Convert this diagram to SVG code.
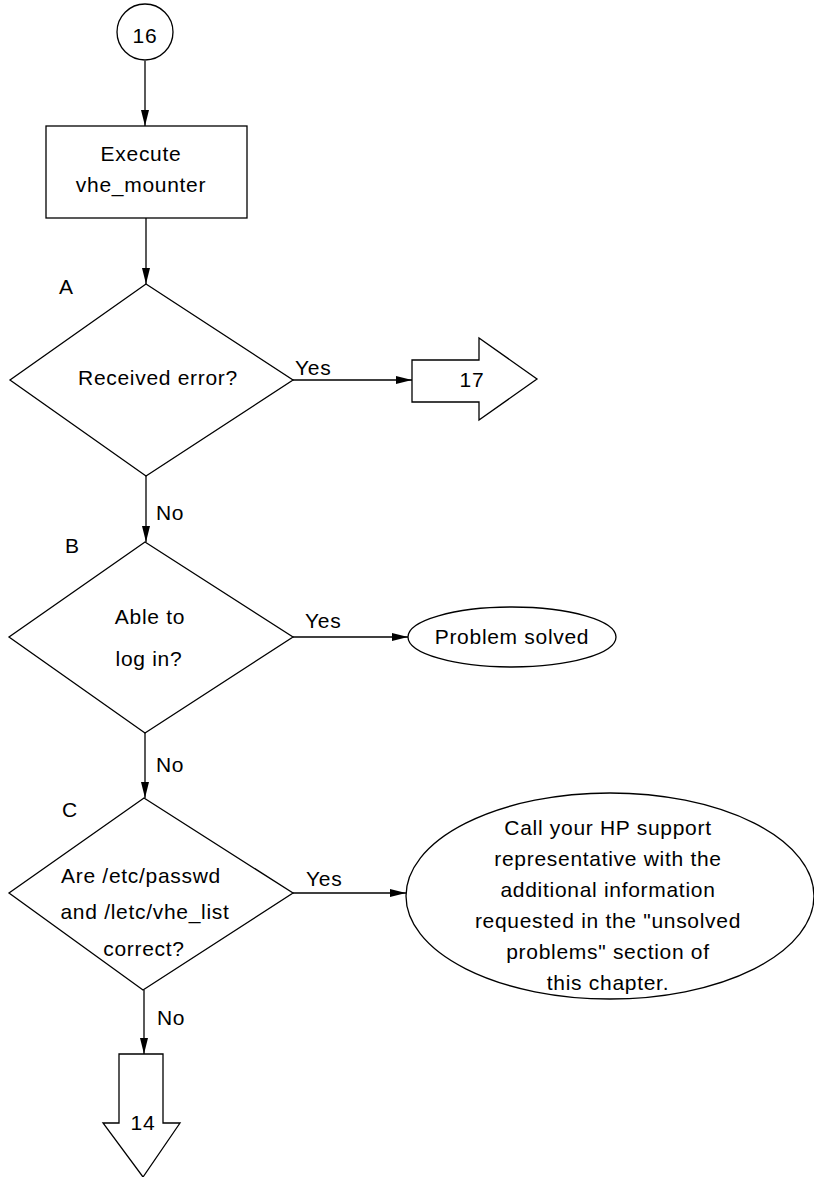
<svg xmlns="http://www.w3.org/2000/svg" width="814" height="1177" viewBox="0 0 814 1177">
  <style>
    .shape { fill: #ffffff; stroke: #000000; stroke-width: 1.3; }
    .line { fill: none; stroke: #000000; stroke-width: 1.3; }
    text { font-family: "Liberation Sans", Arial, sans-serif; font-size: 21px; fill: #000000; letter-spacing: 0.7px; }
    .c { text-anchor: middle; }
  </style>
  <defs>
    <marker id="arrow" viewBox="0 0 16 8" refX="16" refY="4" markerWidth="16" markerHeight="8" markerUnits="userSpaceOnUse" orient="auto">
      <path d="M0,0 L16,4 L0,8 Z" fill="#000000"/>
    </marker>
  </defs>
  <rect width="814" height="1177" fill="#ffffff"/>

  <g id="connectors">
    <line class="line" x1="145" y1="61" x2="145" y2="126" marker-end="url(#arrow)"/>
    <line class="line" x1="146" y1="218" x2="146" y2="284" marker-end="url(#arrow)"/>
    <line class="line" x1="293" y1="380" x2="412" y2="380" marker-end="url(#arrow)"/>
    <line class="line" x1="146" y1="476" x2="146" y2="542" marker-end="url(#arrow)"/>
    <line class="line" x1="293" y1="637" x2="408" y2="637" marker-end="url(#arrow)"/>
    <line class="line" x1="145" y1="733" x2="145" y2="798" marker-end="url(#arrow)"/>
    <line class="line" x1="293" y1="893" x2="406" y2="893" marker-end="url(#arrow)"/>
    <line class="line" x1="144" y1="990" x2="144" y2="1054" marker-end="url(#arrow)"/>
    <text x="295" y="375">Yes</text>
    <text x="156" y="520">No</text>
    <text x="305" y="628">Yes</text>
    <text x="156" y="772">No</text>
    <text x="306" y="886">Yes</text>
    <text x="157" y="1025">No</text>
  </g>

  <g id="start16">
    <circle class="shape" cx="145" cy="32" r="28"/>
    <text class="c" x="145" y="43">16</text>
  </g>

  <g id="execute">
    <rect class="shape" x="46" y="126" width="201" height="92"/>
    <text class="c" x="141" y="161">Execute</text>
    <text class="c" x="141" y="192">vhe_mounter</text>
  </g>

  <g id="decisionA">
    <polygon class="shape" points="146,284 293,380 146,476 10,380"/>
    <text x="59" y="294">A</text>
    <text class="c" x="158" y="385">Received error?</text>
  </g>

  <g id="goto17">
    <polygon class="shape" points="412,360 479,360 479,338 537,379 479,420 479,402 412,402"/>
    <text class="c" x="472" y="387">17</text>
  </g>

  <g id="decisionB">
    <polygon class="shape" points="145,542 293,637 145,733 9,637"/>
    <text x="65" y="553">B</text>
    <text class="c" x="150" y="624">Able to</text>
    <text class="c" x="149" y="666">log in?</text>
  </g>

  <g id="solved">
    <ellipse class="shape" cx="512" cy="637" rx="104" ry="30"/>
    <text class="c" x="512" y="644">Problem solved</text>
  </g>

  <g id="decisionC">
    <polygon class="shape" points="144,798 293,893 143,990 9,893"/>
    <text x="62" y="817">C</text>
    <text class="c" x="141" y="883">Are /etc/passwd</text>
    <text class="c" x="145" y="919">and /letc/vhe_list</text>
    <text class="c" x="144" y="956">correct?</text>
  </g>

  <g id="support">
    <ellipse class="shape" cx="610" cy="896" rx="204" ry="103"/>
    <text class="c" x="608" y="835">Call your HP support</text>
    <text class="c" x="608" y="866">representative with the</text>
    <text class="c" x="608" y="897">additional information</text>
    <text class="c" x="608" y="928">requested in the "unsolved</text>
    <text class="c" x="608" y="959">problems" section of</text>
    <text class="c" x="608" y="990">this chapter.</text>
  </g>

  <g id="goto14">
    <polygon class="shape" points="119,1054 163,1054 163,1123 180,1123 143,1177 103,1123 119,1123"/>
    <text class="c" x="143" y="1130">14</text>
  </g>
</svg>
